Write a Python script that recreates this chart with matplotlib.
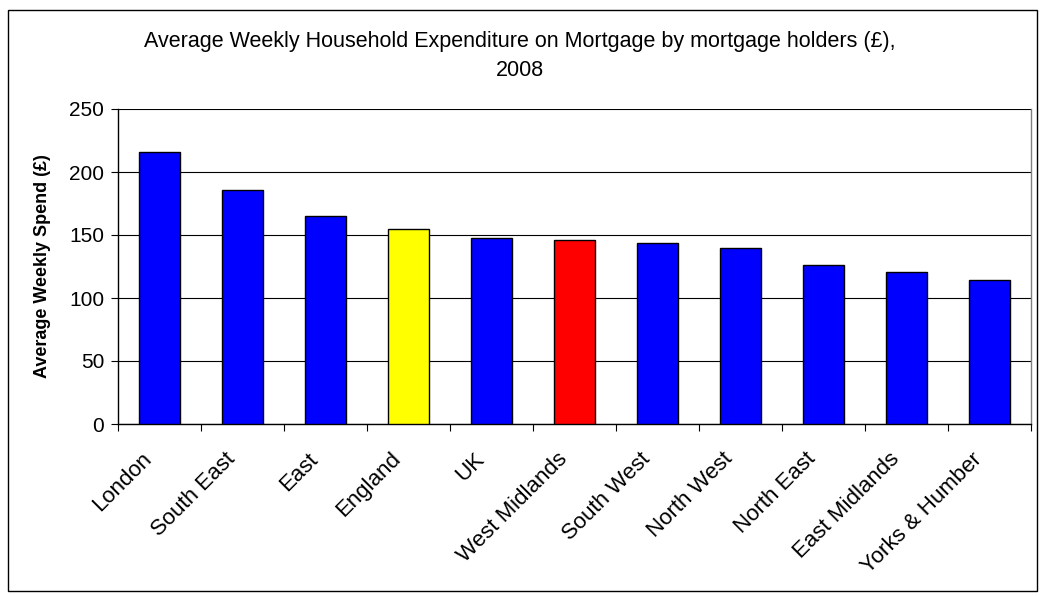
import matplotlib.pyplot as plt
from matplotlib.patches import Rectangle
from matplotlib.transforms import ScaledTranslation
import numpy as np

regions = ["London", "South East", "East", "England", "UK", "West Midlands",
           "South West", "North West", "North East", "East Midlands", "Yorks & Humber"]
spend = [216, 186, 165, 155, 148, 146, 144, 140, 126, 121, 114]
bar_colors = ["#0000ff", "#0000ff", "#0000ff", "#ffff00", "#0000ff", "#ff0000",
              "#0000ff", "#0000ff", "#0000ff", "#0000ff", "#0000ff"]

plt.rcParams['font.family'] = ['Liberation Sans', 'DejaVu Sans']

fig = plt.figure(figsize=(10.4, 5.96), dpi=100)
ax = fig.add_axes([118 / 1040, 1 - 424 / 596, (1031 - 118) / 1040, (424 - 109) / 596])

x = np.arange(len(regions))
ax.bar(x, spend, width=0.5, color=bar_colors, edgecolor="black", linewidth=1.0, zorder=3)

ax.set_xlim(-0.5, len(regions) - 0.5)
ax.set_ylim(0, 250)
ax.set_yticks(range(0, 251, 50))
ax.yaxis.grid(True, color="#000000", linewidth=0.8, zorder=0)
ax.set_axisbelow(True)

ax.set_xticks(x)
ax.set_xticklabels(regions, rotation=45, ha="right", rotation_mode="anchor", fontsize=16)
ax.set_xticks(np.arange(-0.5, len(regions), 1), minor=True)
ax.tick_params(axis="x", which="major", length=0, pad=12)
ax.tick_params(axis="x", which="minor", length=5, width=0.8, direction="out")
ax.tick_params(axis="y", length=5, width=0.8, direction="out", labelsize=15, pad=5)

shift = ScaledTranslation(-18 / 100, -8 / 100, fig.dpi_scale_trans)
for lab in ax.get_xticklabels():
    lab.set_transform(lab.get_transform() + shift)

ax.spines["top"].set_visible(False)
ax.spines["right"].set_color("#808080")
ax.spines["right"].set_linewidth(1.0)
ax.spines["left"].set_linewidth(1.0)
ax.spines["bottom"].set_linewidth(1.0)

ax.set_ylabel("Average Weekly Spend (£)", fontsize=13, fontweight="bold", labelpad=13)
fig.text(0.5, 1 - 56 / 596, "Average Weekly Household Expenditure on Mortgage by mortgage holders (£),\n2008",
         ha="center", va="center", fontsize=15.5, linespacing=1.5)

fig.patches.append(Rectangle((8 / 1040, 5 / 596), 1029 / 1040, 581 / 596, transform=fig.transFigure,
                             fill=False, edgecolor="black", linewidth=1.0))

fig.savefig("out.png", dpi=100)
